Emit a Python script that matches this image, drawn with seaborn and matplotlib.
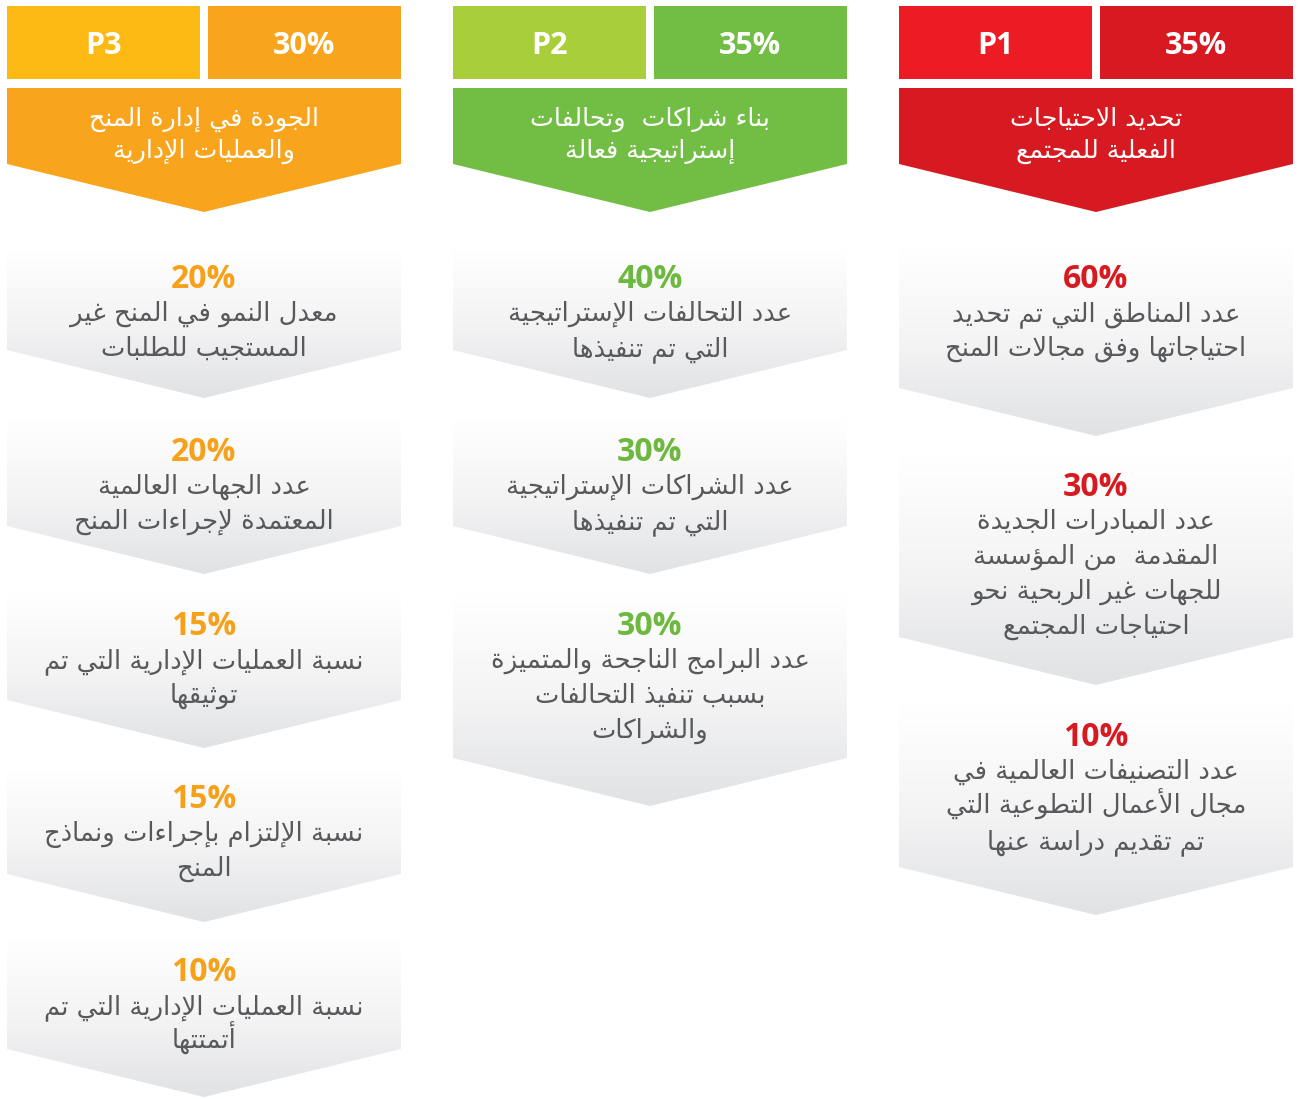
import numpy as np
import matplotlib
matplotlib.use("Agg")
import matplotlib.pyplot as plt
from matplotlib.patches import Polygon, Rectangle
import seaborn as sns

# ---------------- data ----------------
codes = ["P3", "P2", "P1"]
weights = ["30%", "35%", "35%"]
titles = [
    ["الجودة في إدارة المنح", "والعمليات الإدارية"],
    ["بناء شراكات  وتحالفات", "إستراتيجية فعالة"],
    ["تحديد الاحتياجات", "الفعلية للمجتمع"],
]
p3_pcts = ["20%", "20%", "15%", "15%", "10%"]
p3_labels = [
    ["معدل النمو في المنح غير", "المستجيب للطلبات"],
    ["عدد الجهات العالمية", "المعتمدة لإجراءات المنح"],
    ["نسبة العمليات الإدارية التي تم", "توثيقها"],
    ["نسبة الإلتزام بإجراءات ونماذج", "المنح"],
    ["نسبة العمليات الإدارية التي تم", "أتمتتها"],
]
p2_pcts = ["40%", "30%", "30%"]
p2_labels = [
    ["عدد التحالفات الإستراتيجية", "التي تم تنفيذها"],
    ["عدد الشراكات الإستراتيجية", "التي تم تنفيذها"],
    ["عدد البرامج الناجحة والمتميزة", "بسبب تنفيذ التحالفات", "والشراكات"],
]
p1_pcts = ["60%", "30%", "10%"]
p1_labels = [
    ["عدد المناطق التي تم تحديد", "احتياجاتها وفق مجالات المنح"],
    ["عدد المبادرات الجديدة", "المقدمة  من المؤسسة", "للجهات غير الربحية نحو", "احتياجات المجتمع"],
    ["عدد التصنيفات العالمية في", "مجال الأعمال التطوعية التي", "تم تقديم دراسة عنها"],
]

# ---------------- styles / layout ----------------
code_colors = ["#FDB913", "#A8CE3A", "#ED1C24"]
main_colors = ["#F8A51D", "#72BE44", "#D71A21"]
pct_colors = ["#F7A11A", "#6DB83F", "#D71920"]
body_color = "#58595B"
col_x = [7, 453, 899]
col_w = 394
item_layout = [
    [(278, 350), (451, 526), (625, 700), (798, 874), (971, 1049)],
    [(278, 350), (451, 526), (625, 758)],
    [(278, 388), (486, 637), (736, 867)],
]

# ---------------- minimal Arabic shaping ----------------
ARABIC = {
    0x0621: (0xFE80, 1), 0x0622: (0xFE81, 2), 0x0623: (0xFE83, 2), 0x0624: (0xFE85, 2),
    0x0625: (0xFE87, 2), 0x0626: (0xFE89, 4), 0x0627: (0xFE8D, 2), 0x0628: (0xFE8F, 4),
    0x0629: (0xFE93, 2), 0x062A: (0xFE95, 4), 0x062B: (0xFE99, 4), 0x062C: (0xFE9D, 4),
    0x062D: (0xFEA1, 4), 0x062E: (0xFEA5, 4), 0x062F: (0xFEA9, 2), 0x0630: (0xFEAB, 2),
    0x0631: (0xFEAD, 2), 0x0632: (0xFEAF, 2), 0x0633: (0xFEB1, 4), 0x0634: (0xFEB5, 4),
    0x0635: (0xFEB9, 4), 0x0636: (0xFEBD, 4), 0x0637: (0xFEC1, 4), 0x0638: (0xFEC5, 4),
    0x0639: (0xFEC9, 4), 0x063A: (0xFECD, 4), 0x0641: (0xFED1, 4), 0x0642: (0xFED5, 4),
    0x0643: (0xFED9, 4), 0x0644: (0xFEDD, 4), 0x0645: (0xFEE1, 4), 0x0646: (0xFEE5, 4),
    0x0647: (0xFEE9, 4), 0x0648: (0xFEED, 2), 0x0649: (0xFEEF, 2), 0x064A: (0xFEF1, 4),
}
LAMALEF = {0x0622: 0xFEF5, 0x0623: 0xFEF7, 0x0625: 0xFEF9, 0x0627: 0xFEFB}


def shape(text):
    cs = [ord(c) for c in text]
    units = []
    i = 0
    while i < len(cs):
        if cs[i] == 0x0644 and i + 1 < len(cs) and cs[i + 1] in LAMALEF:
            units.append(("LA", cs[i + 1]))
            i += 2
        else:
            units.append(("C", cs[i]))
            i += 1

    def jt(u):
        if u[0] == "LA":
            return "R"
        if u[1] in ARABIC:
            n = ARABIC[u[1]][1]
            return "D" if n == 4 else ("U" if n == 1 else "R")
        return None

    out = []
    for k, u in enumerate(units):
        t = jt(u)
        prev = jt(units[k - 1]) if k > 0 else None
        nxt = jt(units[k + 1]) if k + 1 < len(units) else None
        jp = t in ("D", "R") and prev == "D"
        jn = t == "D" and nxt in ("D", "R")
        if u[0] == "LA":
            b = LAMALEF[u[1]]
            out.append(chr(b + 1 if jp else b))
            continue
        if t is None:
            out.append(chr(u[1]))
            continue
        start, n = ARABIC[u[1]]
        if n == 1:
            out.append(chr(start))
        elif n == 2:
            out.append(chr(start + 1 if jp else start))
        else:
            f = 3 if (jp and jn) else 1 if jp else 2 if jn else 0
            out.append(chr(start + f))
    return "".join(reversed(out))


# ---------------- drawing ----------------
sns.set_theme(style="white")
plt.rcParams["font.family"] = ["DejaVu Sans"]

fig = plt.figure(figsize=(12.98, 10.99), dpi=100)
ax = fig.add_axes([0, 0, 1, 1])
ax.set_xlim(0, 1298)
ax.set_ylim(1099, 0)
ax.axis("off")
fig.patch.set_facecolor("white")

grad = np.linspace(0, 1, 256).reshape(-1, 1)
cmap = matplotlib.colors.LinearSegmentedColormap.from_list(
    "g", ["#FFFFFF", "#F4F4F5", "#E1E2E4"])

latin = ["Open Sans", "DejaVu Sans"]
arab = ["DejaVu Sans"]
ar_size = 18.6
base_off = 8

all_pcts = [p3_pcts, p2_pcts, p1_pcts]
all_labels = [p3_labels, p2_labels, p1_labels]

for c in range(3):
    x0 = col_x[c]
    xm = x0 + col_w / 2
    # header boxes
    ax.add_patch(Rectangle((x0, 6), 193, 73, facecolor=code_colors[c], edgecolor="none"))
    ax.add_patch(Rectangle((x0 + 201, 6), 193, 73, facecolor=main_colors[c], edgecolor="none"))
    ax.text(x0 + 96.5, 46, codes[c], ha="center", va="center", color="white",
            fontsize=22, fontweight="bold", family=latin)
    ax.text(x0 + 201 + 96.5, 46, weights[c], ha="center", va="center", color="white",
            fontsize=22, fontweight="bold", family=latin)
    # title chevron
    ax.add_patch(Polygon([(x0, 88), (x0 + col_w, 88), (x0 + col_w, 164), (xm, 212), (x0, 164)],
                         closed=True, facecolor=main_colors[c], edgecolor="none"))
    for k, line in enumerate(titles[c]):
        ax.text(xm, 118 + 32 * k + base_off, shape(line), ha="center", va="baseline",
                color="white", fontsize=18.2, family=arab)
    # items
    for j, (pct, lines) in enumerate(zip(all_pcts[c], all_labels[c])):
        py, side = item_layout[c][j]
        top = py - 32
        tip = side + 48
        poly = Polygon([(x0, top), (x0 + col_w, top), (x0 + col_w, side), (xm, tip), (x0, side)],
                       closed=True, facecolor="none", edgecolor="none")
        ax.add_patch(poly)
        im = ax.imshow(grad, extent=(x0, x0 + col_w, tip, top), cmap=cmap, aspect="auto",
                       origin="upper", zorder=1)
        im.set_clip_path(poly)
        ax.text(xm, py + 1.5, pct, ha="center", va="center", color=pct_colors[c],
                fontsize=23, fontweight="bold", family=latin, zorder=3)
        for k, line in enumerate(lines):
            ax.text(xm, py + 35 + 35 * k + base_off, shape(line), ha="center", va="baseline",
                    color=body_color, fontsize=ar_size, family=arab, zorder=3)

ax.set_xlim(0, 1298)
ax.set_ylim(1099, 0)
fig.savefig("out.png", dpi=100, facecolor="white")
